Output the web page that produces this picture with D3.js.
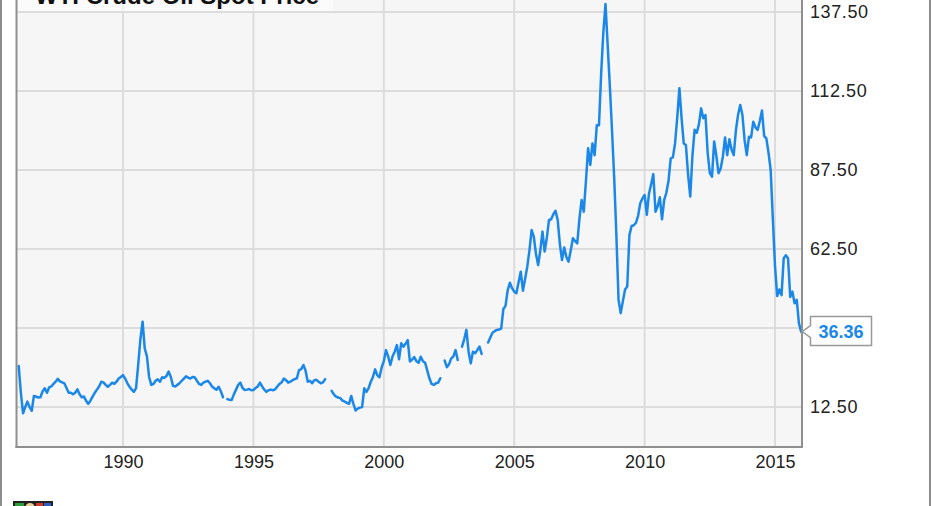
<!DOCTYPE html>
<html>
<head>
<meta charset="utf-8">
<script src="https://cdn.jsdelivr.net/npm/d3@7"></script>
<style>
  html, body { margin: 0; padding: 0; background: #ffffff; }
  svg { display: block; }
  text { font-family: "Liberation Sans", Arial, sans-serif; }
</style>
</head>
<body>
<svg id="chart" width="931" height="506"></svg>
<script>
// ---- Data (monthly WTI spot, Jan 1986 .. Jan 2016; null = missing month) ----
const chartTitle = "WTI Crude Oil Spot Price";
const startYear = 1986;
const prices1986to1995 = [
  25.5, 17.0, 10.5, 12.5, 14.2, 12.5, 11.3, 16.0, 15.8, 15.5, 15.6, 17.5,
  18.4, 17.0, 18.7, 19.0, 19.8, 20.5, 21.4, 20.6, 20.3, 20.0, 18.5, 17.0,
  17.0, 16.5, 17.0, 18.1, 16.5, 15.6, 15.8, 14.5, 13.5, 14.5, 15.8, 17.0,
  18.0, 19.0, 20.5, 20.3, 19.5, 18.9, 19.5, 20.2, 19.8, 20.5, 21.5, 22.0,
  22.6, 21.5, 20.0, 18.9, 18.0, 17.3, 18.5, 26.0, 34.0, 39.5, 31.0, 28.5,
  22.0, 19.5, 19.8, 20.8, 21.3, 20.5, 21.9, 21.7, 22.3, 23.7, 22.0, 19.2,
  19.0, 19.5, 20.0, 20.8, 21.5, 22.2, 21.8, 21.5, 22.0, 21.9, 20.8, 19.8,
  19.5, 20.2, 20.5, 20.8, 20.0, 19.0, 18.4, 18.0, 18.9, 17.5, 15.6, null,
  15.0, 14.8, 14.7, 16.5, 18.0, 19.5, 20.2, 18.5, 17.9, 18.0, 18.2, 17.8,
  17.9, 18.5, 19.0, 20.2, 19.0, 18.0, 17.3, 17.8, 18.0, 17.8, 18.1, 19.0
];
const prices1996to2005 = [
  19.8, 20.3, 21.5, 21.0, 20.2, 20.5, 21.0, 21.3, 21.6, 24.2, 24.5, 25.8,
  24.0, 20.5, 20.8, 20.0, 21.0, 21.1, 20.5, 20.0, 20.3, 21.3, null, null,
  17.6, 16.5, 15.8, 15.5, 15.3, 14.5, 14.2, 13.8, 13.5, 16.0, 13.5, 11.4,
  12.0, 12.3, 12.5, 18.4, 17.3, 18.5, 20.5, 22.0, 24.4, 22.5, 21.9, 25.0,
  27.0, 30.5, 28.5, 25.8, 28.5, 30.0, 32.1, 27.6, 32.7, 31.6, 32.5, 33.7,
  26.9, 27.5, 28.3, 27.0, 26.5, 28.4, 27.0, 26.5, 24.0, 21.5, 19.8, 19.5,
  20.0, 20.2, 21.6, null, 27.2, 25.1, 26.0, 27.9, 28.5, 30.5, 27.4, null,
  31.6, 34.0, 36.9, 30.0, 26.3, 30.0, 29.5, 30.5, 31.6, 29.3, null, null,
  32.9, 34.5, 36.0, 36.5, 36.9, 37.0, 37.3, 43.5, 44.5, 49.5, 51.8, 50.1,
  49.0, 48.5, 52.0, 55.3, 49.3, 53.0, 56.9, 62.0, 68.5, 66.4, 61.0, 57.4
];
const prices2006to2016 = [
  62.0, 68.0, 61.7, 66.0, 71.7, 71.9, 73.5, 74.6, 71.7, 64.0, 59.0, 63.0,
  60.0, 58.5, 62.0, 65.9, 65.0, 64.3, 72.0, 78.0, 74.3, 84.0, 94.4, 89.1,
  95.9, 92.2, 101.7, 101.7, 118.0, 131.0, 140.0, 127.0, 114.0, 100.0, 85.0, 67.0,
  46.4, 42.2, 46.0, 49.7, 50.6, 66.9, 69.8, 70.0, 70.8, 73.0, 77.0, 78.5,
  79.6, 73.3, 80.0, 83.0, 86.2, 74.3, 76.0, 78.9, 71.9, 78.0, 80.3, 84.1,
  91.2, 91.5, 95.9, 104.0, 113.4, 104.0, 95.9, 95.4, 86.0, 79.1, 92.0, 100.2,
  99.3, 102.0, 107.0, 103.9, 104.9, 93.0, 86.5, 85.4, 96.5, 92.0, 86.5, 88.0,
  91.7, 97.8, 92.2, 97.2, 94.0, 92.2, 100.0, 105.0, 108.1, 104.9, 97.0, 92.2,
  98.0, 97.8, 102.8, 101.0, 100.2, 103.0, 106.3, 98.3, 97.5, 93.0, 87.5, 72.0,
  57.0, 47.6, 49.7, 47.9, 59.6, 60.5, 59.5, 47.3, 49.0, 45.3, 46.4, 39.0,
  36.36
];
const xTickYears = [1990, 1995, 2000, 2005, 2010, 2015];
const yTickValues = [12.5, 37.5, 62.5, 87.5, 112.5, 137.5];
const yTickHidden = [37.5]; // label hidden behind the last-value callout
const lastValueLabel = "36.36";

// ---- Build series ----
const allPrices = prices1986to1995.concat(prices1996to2005, prices2006to2016);
const series = allPrices.map((v, i) => ({ t: startYear + i / 12, v: v }));
const lastPoint = series[series.length - 1];

// ---- Layout ----
const svg = d3.select("#chart");
const W = 931, H = 506;
const plot = { left: 17, right: 802, top: -40, bottom: 447 };
const lineColor = "#1b87e8";

const x = d3.scaleLinear().domain([1986, 2016]).range([18.7, 801.1]);
const y = d3.scaleLinear().domain([0, 137.5]).range([446.5, 12]);

// outer frame lines
svg.append("line").attr("x1", 1).attr("x2", 1).attr("y1", 0).attr("y2", H)
  .attr("stroke", "#8c8c8c").attr("stroke-width", 2);
svg.append("line").attr("x1", 930).attr("x2", 930).attr("y1", 0).attr("y2", H)
  .attr("stroke", "#8c8c8c").attr("stroke-width", 2);

// plot background
svg.append("rect")
  .attr("x", plot.left).attr("y", plot.top)
  .attr("width", plot.right - plot.left).attr("height", plot.bottom - plot.top)
  .attr("fill", "#f6f6f6");

// gridlines
const grid = svg.append("g");
grid.selectAll("line.h").data(yTickValues).join("line")
  .attr("x1", plot.left).attr("x2", plot.right)
  .attr("y1", d => y(d)).attr("y2", d => y(d))
  .attr("stroke", "#dcdcdc").attr("stroke-width", 2);
grid.selectAll("line.v").data(xTickYears).join("line")
  .attr("x1", d => x(d)).attr("x2", d => x(d))
  .attr("y1", plot.top).attr("y2", plot.bottom)
  .attr("stroke", "#dcdcdc").attr("stroke-width", 2);

// title box (semi-transparent) with title text, cropped at top
svg.append("rect")
  .attr("x", plot.left + 1).attr("y", plot.top)
  .attr("width", 333 - plot.left - 1).attr("height", 11 - plot.top)
  .attr("fill", "#ffffff").attr("fill-opacity", 0.6);
svg.append("text")
  .attr("x", 35).attr("y", 3.5)
  .attr("font-size", 24).attr("font-weight", "bold").attr("fill", "#111")
  .text(chartTitle);

// line
const line = d3.line()
  .defined(d => d.v !== null)
  .x(d => x(d.t))
  .y(d => y(d.v));
svg.append("path")
  .datum(series)
  .attr("d", line)
  .attr("fill", "none")
  .attr("stroke", lineColor)
  .attr("stroke-width", 2.5)
  .attr("stroke-linejoin", "round")
  .attr("stroke-linecap", "round");

// plot borders
svg.append("line").attr("x1", plot.left - 0.5).attr("x2", plot.left - 0.5)
  .attr("y1", plot.top).attr("y2", plot.bottom + 1)
  .attr("stroke", "#8f8f8f").attr("stroke-width", 2);
svg.append("line").attr("x1", plot.right).attr("x2", plot.right)
  .attr("y1", plot.top).attr("y2", plot.bottom + 1)
  .attr("stroke", "#8f8f8f").attr("stroke-width", 2);
svg.append("line").attr("x1", plot.left - 1.5).attr("x2", plot.right + 1)
  .attr("y1", plot.bottom).attr("y2", plot.bottom)
  .attr("stroke", "#8f8f8f").attr("stroke-width", 2);

// right y axis labels
const fmt = d3.format(".2f");
const yAxis = d3.axisRight(y)
  .tickValues(yTickValues)
  .tickSize(0)
  .tickPadding(8)
  .tickFormat(d => yTickHidden.includes(d) ? "" : fmt(d));
const gy = svg.append("g").attr("transform", `translate(${plot.right},0)`).call(yAxis);
gy.select(".domain").remove();
gy.selectAll("text")
  .attr("font-size", 18).attr("fill", "#222")
  .attr("font-family", "'Liberation Sans', Arial, sans-serif")
  .attr("letter-spacing", 0.6);

// bottom x axis labels
const xAxis = d3.axisBottom(x)
  .tickValues(xTickYears)
  .tickSize(0)
  .tickPadding(8)
  .tickFormat(d3.format("d"));
const gx = svg.append("g").attr("transform", `translate(0,${plot.bottom})`).call(xAxis);
gx.select(".domain").remove();
gx.selectAll("text")
  .attr("font-size", 18).attr("fill", "#222")
  .attr("font-family", "'Liberation Sans', Arial, sans-serif");

// last value callout
const lx = x(lastPoint.t) + 1, ly = y(lastPoint.v);
const bx = 810.5, bw = 61, bt = 316.5, bb = 345.5;
svg.append("path")
  .attr("d", `M${lx},${ly} L${bx},${ly - 6} L${bx},${bt} L${bx + bw},${bt} L${bx + bw},${bb} L${bx},${bb} L${bx},${ly + 6} Z`)
  .attr("fill", "#ffffff").attr("stroke", "#999999").attr("stroke-width", 1.5);
svg.append("text")
  .attr("x", bx + bw / 2).attr("y", (bt + bb) / 2 + 1)
  .attr("text-anchor", "middle").attr("dominant-baseline", "central")
  .attr("font-size", 18).attr("font-weight", "bold").attr("fill", lineColor)
  .text(lastValueLabel);

// small logo at bottom left (cropped)
const logo = svg.append("g").attr("transform", "translate(13,501)");
logo.append("rect").attr("width", 40).attr("height", 8).attr("fill", "#222");
logo.append("rect").attr("x", 2).attr("y", 2).attr("width", 9).attr("height", 6).attr("fill", "#2e9e3a");
logo.append("circle").attr("cx", 17).attr("cy", 7).attr("r", 5).attr("fill", "#e8d29a");
logo.append("rect").attr("x", 23).attr("y", 2).attr("width", 7).attr("height", 6).attr("fill", "#d23b2b");
logo.append("rect").attr("x", 31).attr("y", 2).attr("width", 7).attr("height", 6).attr("fill", "#2d5fc4");
</script>
</body>
</html>
